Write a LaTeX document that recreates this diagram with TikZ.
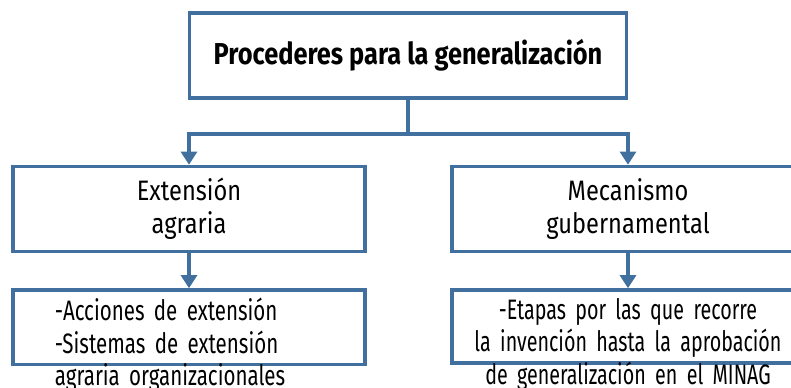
\documentclass[tikz,border=0pt]{standalone}
\usepackage{fontspec}
\setmainfont[FakeStretch=0.84]{Fira Sans}
\newfontfamily\leftlistfont[FakeStretch=0.73]{Fira Sans}
\newfontfamily\rightlistfont[FakeStretch=0.70]{Fira Sans}
\usetikzlibrary{arrows.meta, positioning}
\definecolor{procblue}{HTML}{41709F}
\tikzset{
  topbox/.style={rectangle,draw=procblue,line width=2.5pt,fill=white,minimum width=10.925cm,minimum height=2.125cm,inner sep=0pt,font=\fontsize{21.5}{25}\selectfont\bfseries},
  stagebox/.style={rectangle,draw=procblue,line width=2.5pt,fill=white,minimum width=8.8cm,minimum height=2.125cm,inner sep=0pt,align=center,font=\fontsize{20}{23.4}\selectfont},
  listbox/.style={rectangle,draw=procblue,line width=2.5pt,fill=white,minimum width=8.8cm,inner xsep=0pt,inner ysep=0.2cm,anchor=north,text depth=0.9cm},
  flow/.style={line width=2.5pt,procblue,-{Triangle[width=0.4cm,length=0.33cm]}},
}

\begin{document}
\begin{tikzpicture}
	    \clip (-10.2,1.3875) rectangle (9.575,-8.3125);
	    \node[topbox] (title) {Procederes para la generalización};
	    \node[stagebox,below=1.625cm of title,xshift=-5.475cm] (ext) {Extensión\\agraria};
	    \node[stagebox,below=1.625cm of title,xshift=5.5cm]  (mec) {Mecanismo\\gubernamental};
	    \node[listbox,below=0.875cm of ext,text width=6.7cm,align=left,font=\fontsize{20}{23.2}\selectfont\leftlistfont] (extlist) {-Acciones de extensión\\-Sistemas de extensión\\agraria organizacionales};
	    \node[listbox,below=0.875cm of mec,text width=8.8cm,align=center,font=\fontsize{20}{23.2}\selectfont\rightlistfont] (meclist) {-Etapas por las que recorre\\la invención hasta la aprobación\\de generalización en el MINAG};
	    \coordinate[below=0.85cm of title.south] (split);
	    \draw[flow] (title.south) -- (split) -| (ext.north);
	    \draw[flow] (split) -| (mec.north);
	    \draw[flow] (ext) -- (extlist);
	    \draw[flow] (mec) -- (meclist);
	\end{tikzpicture}
\end{document}
